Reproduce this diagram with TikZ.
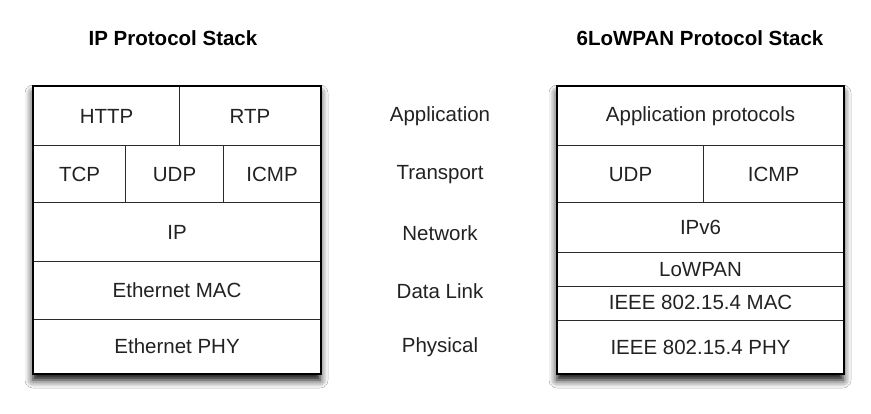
\documentclass[tikz,border=0pt]{standalone}
\usepackage{fontspec}
\setmainfont{Liberation Sans}
\usetikzlibrary{shadows.blur}
\definecolor{inkgray}{HTML}{222222}
\definecolor{rulegray}{HTML}{2A2A2A}
\begin{document}
\begin{tikzpicture}[x=1pt,y=-1pt,
  cellbox/.style={draw=rulegray, line width=1.1pt, fill=white, anchor=north west,
    inner sep=0pt, text=inkgray, font=\fontsize{20.5}{24}\selectfont},
  layerlabel/.style={text=inkgray, font=\fontsize{20.5}{24}\selectfont},
  stacktitle/.style={text=black, font=\fontsize{20.5}{24}\selectfont\bfseries},
  stackframe/.style={draw=black, line width=1.8pt, fill=white,
    blur shadow={shadow xshift=0pt, shadow yshift=-7pt, shadow blur radius=8pt, shadow opacity=100}}]
\useasboundingbox (0,0) rectangle (871,414);
\fill[white] (0,0) rectangle (871,414);

% stack titles
\node[stacktitle] (iptitle) at (173,38) {IP Protocol Stack};
\node[stacktitle] (lowtitle) at (700,38) {6LoWPAN Protocol Stack};

% shadowed outlines of both stacks
\path[stackframe] (33,86) rectangle (320,373);
\path[stackframe] (557,86) rectangle (843,373);

% IP protocol stack
\node[cellbox, minimum width=146pt, minimum height=59pt] (http) at (33,86) {HTTP};
\node[cellbox, minimum width=141pt, minimum height=59pt] (rtp) at (179,86) {RTP};
\node[cellbox, minimum width=92pt, minimum height=57pt] (tcp) at (33,145) {TCP};
\node[cellbox, minimum width=98pt, minimum height=57pt] (udp) at (125,145) {UDP};
\node[cellbox, minimum width=97pt, minimum height=57pt] (icmp) at (223,145) {ICMP};
\node[cellbox, minimum width=287pt, minimum height=59pt] (ip) at (33,202) {IP};
\node[cellbox, minimum width=287pt, minimum height=58pt] (emac) at (33,261) {Ethernet MAC};
\node[cellbox, minimum width=287pt, minimum height=54pt] (ephy) at (33,319) {Ethernet PHY};

% layer names
\node[layerlabel] (lapp) at (440,116) {Application};
\node[layerlabel] (ltrans) at (440,175) {Transport};
\node[layerlabel] (lnet) at (440,233) {Network};
\node[layerlabel] (llink) at (440,291) {Data Link};
\node[layerlabel] (lphys) at (440,347) {Physical};

% 6LoWPAN protocol stack
\node[cellbox, minimum width=286pt, minimum height=59pt] (appproto) at (557,86) {Application protocols};
\node[cellbox, minimum width=146pt, minimum height=57pt] (udp6) at (557,145) {UDP};
\node[cellbox, minimum width=140pt, minimum height=57pt] (icmp6) at (703,145) {ICMP};
\node[cellbox, minimum width=286pt, minimum height=50pt] (ipv6) at (557,202) {IPv6};
\node[cellbox, minimum width=286pt, minimum height=34pt] (lowpan) at (557,252) {LoWPAN};
\node[cellbox, minimum width=286pt, minimum height=34pt] (mac154) at (557,286) {\raisebox{2pt}{IEEE 802.15.4 MAC}};
\node[cellbox, minimum width=286pt, minimum height=53pt] (phy154) at (557,320) {IEEE 802.15.4 PHY};

% outer borders on top
\draw[black, line width=1.8pt] (http.north west) rectangle (ephy.south east);
\draw[black, line width=1.8pt] (appproto.north west) rectangle (phy154.south east);
\end{tikzpicture}
\end{document}
